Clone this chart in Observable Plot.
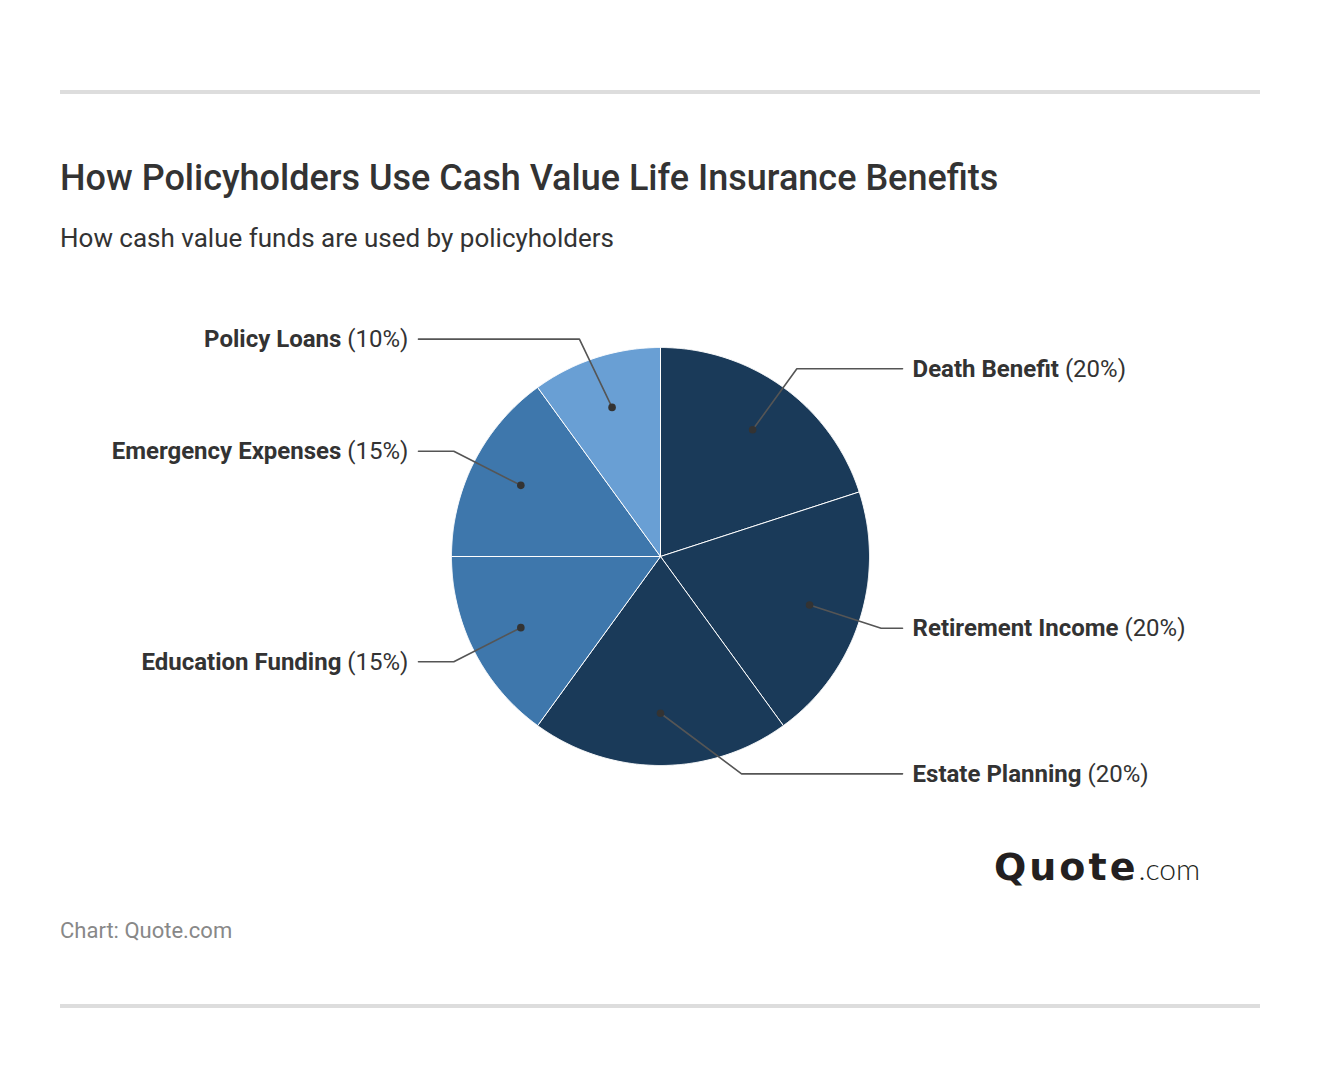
<!DOCTYPE html>
<html>
<head>
<meta charset="utf-8">
<script src="https://cdn.jsdelivr.net/npm/d3@7"></script>
<script src="https://cdn.jsdelivr.net/npm/@observablehq/plot@0.6"></script>
<style>
  html, body { margin: 0; padding: 0; background: #ffffff; }
  body { font-family: Roboto, "Noto Sans", sans-serif; }
  #page { position: relative; width: 1320px; height: 1088px; overflow: hidden; }
  .rule { position: absolute; left: 60px; width: 1200px; height: 4px; background: #dddddd; }
  #title { position: absolute; left: 60px; top: 160px; font-size: 36px; line-height: 36px; font-weight: 500; color: #333333; white-space: nowrap; }
  #subtitle { position: absolute; left: 60px; top: 225px; font-size: 26px; line-height: 26px; font-weight: 400; color: #333333; white-space: nowrap; }
  #chart { position: absolute; left: 0; top: 280px; }
  #logo { position: absolute; left: 994px; top: 847px; white-space: nowrap; color: #231f20; line-height: 40px; }
  #logo .q { font-family: "DejaVu Sans", sans-serif; font-weight: 700; font-size: 38px; letter-spacing: 3px; }
  #logo .c { font-family: Lato, sans-serif; font-weight: 300; font-size: 30px; }
  #caption { position: absolute; left: 60px; top: 920px; font-size: 22px; line-height: 22px; color: #888888; white-space: nowrap; }
</style>
</head>
<body>
<div id="page">
  <div class="rule" style="top:90px"></div>
  <div id="title">How Policyholders Use Cash Value Life Insurance Benefits</div>
  <div id="subtitle">How cash value funds are used by policyholders</div>
  <div id="chart"></div>
  <div id="logo"><span class="q">Quote</span><span class="c">.com</span></div>
  <div id="caption">Chart: Quote.com</div>
  <div class="rule" style="top:1004px"></div>
</div>
<script>
// ---- data ----
const categories = ["Death Benefit", "Retirement Income", "Estate Planning", "Education Funding", "Emergency Expenses", "Policy Loans"];
const shares = [20, 20, 20, 15, 15, 10];
const sliceColors = ["#1a3a59", "#1a3a59", "#1a3a59", "#3e77ac", "#3e77ac", "#699fd4"];

// ---- layout constants ----
const W = 1320, H = 560, R = 209, CX = 660, CY = 276;
const dotR = 0.75, elbowR = 1.11, maxDy = 1.04, lineEnd = 1.158, textX = 1.206;

const arcs = d3.pie().sort(null).value(d => d)(shares);

// slice polygons
const slices = arcs.map((a, i) => {
  const pts = [{x: 0, y: 0}];
  const n = Math.max(8, Math.ceil((a.endAngle - a.startAngle) / 0.005));
  for (let k = 0; k <= n; k++) {
    const t = a.startAngle + (a.endAngle - a.startAngle) * k / n;
    pts.push({x: Math.sin(t), y: -Math.cos(t)});
  }
  pts.push({x: 0, y: 0});
  return {name: categories[i], color: sliceColors[i], pts};
});

// label layout
const labels = arcs.map((a, i) => {
  const m = (a.startAngle + a.endAngle) / 2;
  const right = m <= Math.PI + 1e-9;
  const s = right ? 1 : -1;
  const dx = Math.sin(m) * dotR, dy = -Math.cos(m) * dotR;
  let ly = -Math.cos(m) * elbowR;
  ly = Math.max(-maxDy, Math.min(maxDy, ly));
  const ex = s * Math.sqrt(elbowR * elbowR - ly * ly);
  return {
    name: categories[i],
    label: `${categories[i]} (${shares[i]}%)`,
    right, dx, dy, ex, ly,
    lx: s * lineEnd, tx: s * textX
  };
});

const leaders = labels.flatMap(d => [
  {name: d.name, x: d.dx, y: d.dy},
  {name: d.name, x: d.ex, y: d.ly},
  {name: d.name, x: d.lx, y: d.ly}
]);

const plot = Plot.plot({
  width: W, height: H,
  marginTop: 0, marginRight: 0, marginBottom: 0, marginLeft: 0,
  x: {domain: [-CX / R, (W - CX) / R], range: [0, W], axis: null},
  y: {domain: [-CY / R, (H - CY) / R], range: [0, H], axis: null},
  style: {fontFamily: "Roboto, sans-serif", background: "#ffffff", overflow: "visible"},
  marks: [
    ...slices.map(s => Plot.line(s.pts, {x: "x", y: "y", fill: s.color, stroke: "#ffffff", strokeWidth: 1, strokeLinejoin: "round", curve: "linear"})),
    Plot.line(leaders, {x: "x", y: "y", z: "name", stroke: "#555555", strokeWidth: 1.6, curve: "linear"}),
    Plot.dot(labels, {x: "dx", y: "dy", r: 3.8, fill: "#333333", stroke: "none"}),
    Plot.text(labels.filter(d => d.right), {x: "tx", y: "ly", text: "label", textAnchor: "start", fontSize: 24, fill: "#333333"}),
    Plot.text(labels.filter(d => !d.right), {x: "tx", y: "ly", text: "label", textAnchor: "end", fontSize: 24, fill: "#333333"})
  ]
});

document.getElementById("chart").appendChild(plot);

// bold category name + regular percentage
d3.select(plot).selectAll('g[aria-label="text"] text').each(function () {
  const t = this.textContent;
  const m = t.match(/^(.*) (\(.*\))$/);
  if (!m) return;
  const sel = d3.select(this);
  sel.text(null);
  sel.append("tspan").attr("font-weight", 700).text(m[1]);
  sel.append("tspan").attr("font-weight", 400).text(" " + m[2]);
});
</script>
</body>
</html>
